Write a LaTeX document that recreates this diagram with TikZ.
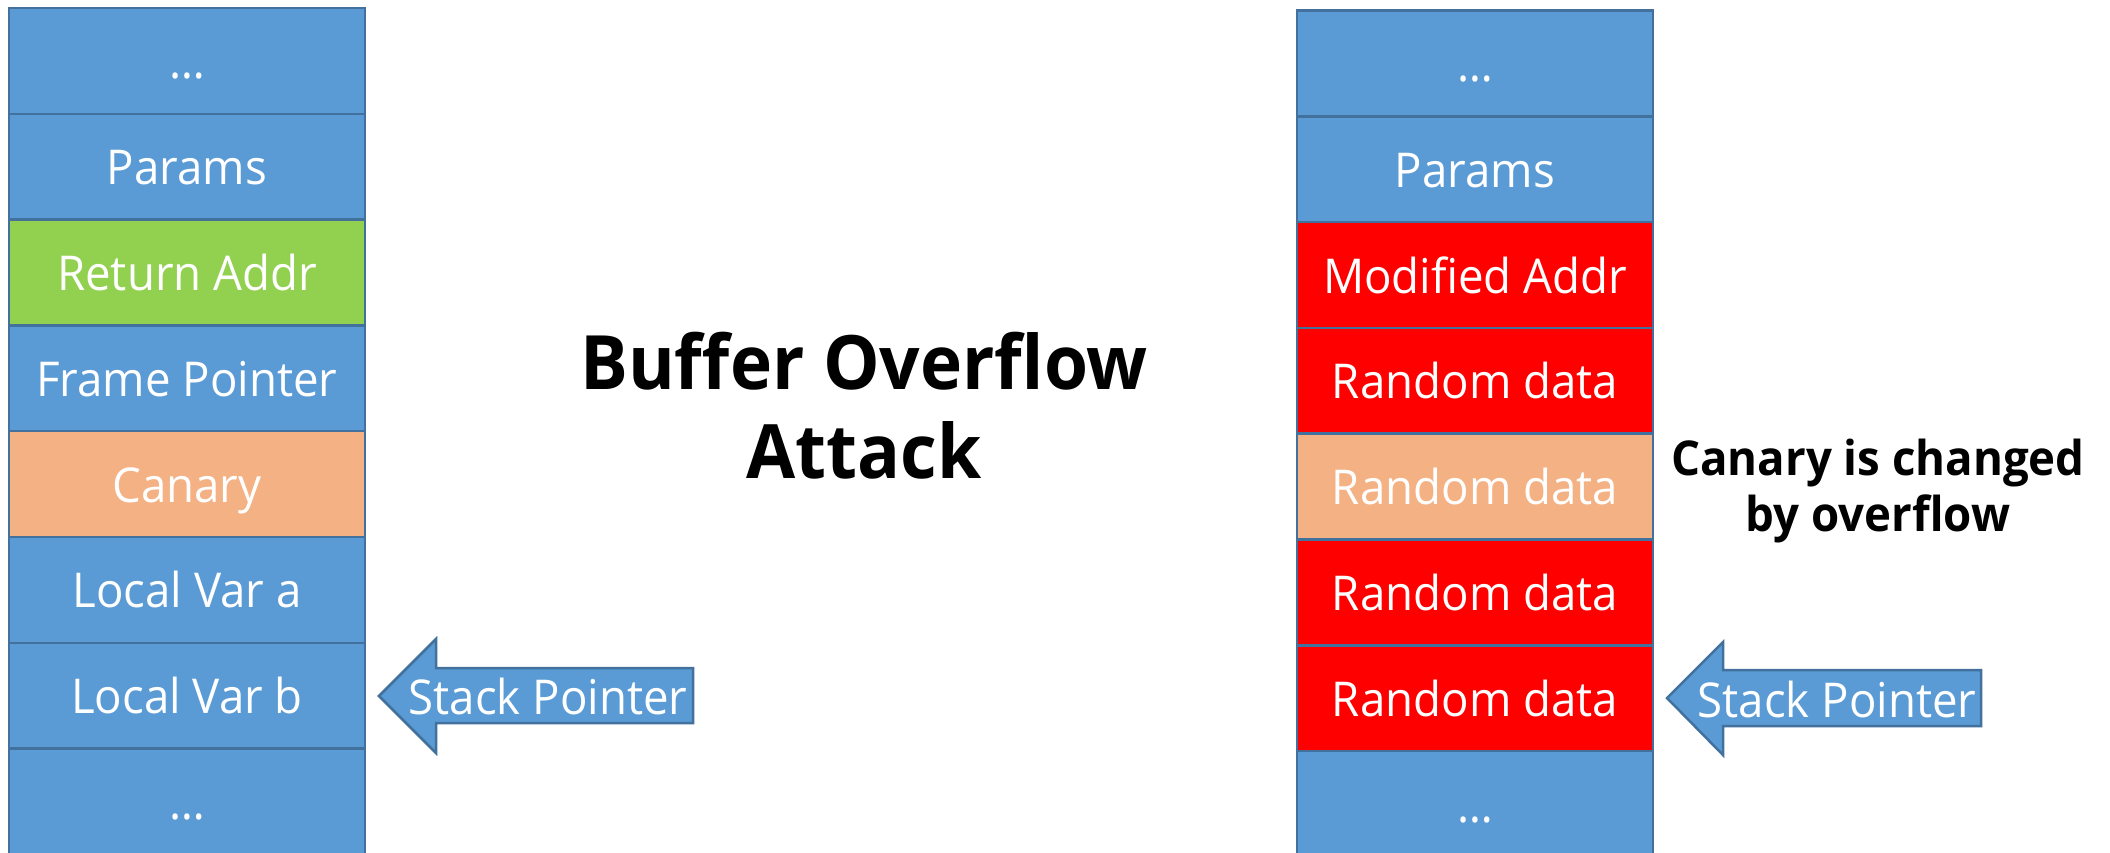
\documentclass[tikz,border=0pt]{standalone}
\usepackage{fontspec}
\setmainfont{Open Sans}[FakeStretch=0.95]
\usetikzlibrary{calc}

\definecolor{cellblue}{HTML}{5B9BD5}
\definecolor{edgeblue}{HTML}{41719C}
\definecolor{retgreen}{HTML}{92D050}
\definecolor{canaryorange}{HTML}{F4B183}
\definecolor{smashred}{HTML}{FF0000}

\begin{document}
\begin{tikzpicture}[x=1pt,y=-1pt,
  cell/.style={draw=edgeblue, line width=2.5pt, fill=cellblue,
    minimum width=356pt, minimum height=105.8pt, inner sep=0pt,
    text=white, text height=36pt, text depth=0pt,
    font=\fontsize{48}{58}\selectfont},
  ptrarrow/.style={draw=edgeblue, line width=2.5pt, fill=cellblue, line join=miter},
  ptrtext/.style={text=white, inner sep=0pt, font=\fontsize{48}{58}\selectfont},
  heading/.style={align=center, inner sep=0pt, font=\bfseries\fontsize{75}{89}\selectfont},
  remark/.style={align=center, inner sep=0pt, font=\bfseries\fontsize{48}{56}\selectfont}]

  \useasboundingbox (0,0) rectangle (2110,852);
  \fill[white] (0,0) rectangle (2110,852);

  % normal stack frame
  \foreach \t/\c [count=\i from 0] in {…/cellblue, Params/cellblue,
      Return Addr/retgreen, Frame Pointer/cellblue, Canary/canaryorange,
      Local Var a/cellblue, Local Var b/cellblue, …/cellblue}
    \node[cell, fill=\c] (l\i) at (187, 8+105.8*\i+52.9) {\t};

  % stack frame after the overflow
  \foreach \t/\c [count=\i from 0] in {…/cellblue, Params/cellblue,
      Modified Addr/smashred, Random data/smashred, Random data/canaryorange,
      Random data/smashred, Random data/smashred, …/cellblue}
    \node[cell, fill=\c] (r\i) at (1475, 10.5+105.8*\i+52.9) {\t};

  % stack pointer arrows
  \filldraw[ptrarrow] (379,696) -- (436,639) -- (436,668) -- (693,668)
    -- (693,723) -- (436,723) -- (436,753) -- cycle;
  \node[ptrtext, anchor=base] (lsp) at (548,714) {Stack Pointer};

  \filldraw[ptrarrow] (1667,698) -- (1723,642) -- (1723,670) -- (1981,670)
    -- (1981,726) -- (1723,726) -- (1723,755) -- cycle;
  \node[ptrtext, anchor=base] (rsp) at (1837,717) {Stack Pointer};

  % captions
  \node[heading] (title) at (864,406) {Buffer Overflow\\Attack};
  \node[remark] (note) at (1878,491.5) {Canary is changed\\by overflow};
\end{tikzpicture}
\end{document}
